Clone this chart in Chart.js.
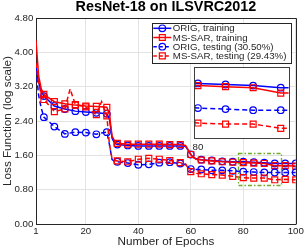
<!DOCTYPE html>
<html>
<head>
<meta charset="utf-8">
<script src="https://cdn.jsdelivr.net/npm/chart.js@4.4.1/dist/chart.umd.min.js"></script>
<style>
  html, body { margin: 0; padding: 0; background: #fff; }
  #wrap { position: relative; width: 305px; height: 249px; }
  #main { position: absolute; left: 0; top: 0; }
  #inset { position: absolute; left: 188px; top: 62px; }
</style>
</head>
<body>
<div id="wrap">
  <canvas id="main" width="305" height="249"></canvas>
  <canvas id="inset" width="106" height="90"></canvas>
</div>
<script>
// values (null = no reading at that epoch)
const epochs     = [1, 2, 3, 4, 8, 12, 14, 16, 20, 24, 26, 28, 29, 30, 31, 32, 36, 40, 44, 48, 52, 56, 58, 59, 60, 61, 62, 64, 68, 72, 76, 80, 84, 88, 92, 96, 100];
const origTrain  = [3.70, 3.30, 3.10, 2.98, 2.75, 2.68, null, 2.63, 2.61, 2.59, null, 2.57, 2.45, 2.00, 1.88, 1.85, 1.83, 1.82, 1.82, 1.82, 1.82, 1.82, 1.81, 1.72, 1.62, 1.55, 1.52, 1.50, 1.48, 1.46, 1.45, 1.45, 1.44, 1.43, 1.41, 1.41, 1.41];
const msTrain    = [4.28, 3.45, 3.15, 3.02, 2.85, 2.80, null, 2.77, 2.75, 2.74, null, 2.72, 2.55, 2.05, 1.93, 1.88, 1.86, 1.86, 1.86, 1.86, 1.85, 1.85, 1.83, 1.73, 1.62, 1.55, 1.51, 1.49, 1.47, 1.45, 1.44, 1.43, 1.42, 1.41, 1.36, 1.36, 1.35];
const origTest   = [3.60, 3.00, 2.70, 2.49, 2.27, 2.10, null, 2.14, 2.13, 2.09, 2.12, 2.14, 1.85, 1.50, 1.46, 1.45, 1.42, 1.38, 1.39, 1.43, 1.44, 1.41, 1.38, 1.32, 1.28, 1.27, 1.27, 1.27, 1.25, 1.25, 1.24, 1.22, 1.21, 1.20, 1.20, 1.20, 1.20];
const msTest     = [3.75, 3.30, 3.00, 2.90, 2.62, 2.68, 3.15, 2.78, 2.73, 2.55, 2.85, 2.52, 1.85, 1.52, 1.48, 1.47, 1.45, 1.51, 1.53, 1.51, 1.48, 1.43, 1.40, 1.30, 1.22, 1.19, 1.18, 1.17, 1.15, 1.14, 1.11, 1.08, 1.07, 1.07, 1.03, 1.04, 1.03];
const seriesNames = ['ORIG, training', 'MS-SAR, training', 'ORIG, testing (30.50%)', 'MS-SAR, testing (29.43%)'];

const xTicks = [1, 20, 40, 60, 80, 100];
const yTicks = [0, 0.8, 1.6, 2.4, 3.2, 4.0, 4.8];
const insetTicks = [80];
const insetX = [79.43, 93.14];
const insetY = [0.94, 1.6];
const zoomBox = { x: [78, 94.3], y: [0.91, 1.655] };

const FONT = '"Liberation Sans", Arial, Helvetica, sans-serif';
const AXIS = '#262626';
const GRID = '#e3e3e3';
const BLUE = '#0000ff';
const RED = '#ff0000';

const styles = [
  { color: BLUE, dash: [], point: 'circle', r: 3.3 },
  { color: RED, dash: [], point: 'rect', r: 4.2 },
  { color: BLUE, dash: [5, 3], point: 'circle', r: 3.3 },
  { color: RED, dash: [5, 3], point: 'rect', r: 4.2 }
];
const series = [origTrain, msTrain, origTest, msTest];

function makeDatasets() {
  return series.map((vals, i) => ({
    label: seriesNames[i],
    data: epochs.map((e, j) => ({ x: e, y: vals[j] })).filter(p => p.y !== null),
    borderColor: styles[i].color,
    borderWidth: 1.5,
    borderDash: styles[i].dash,
    pointStyle: styles[i].point,
    pointRadius: ctx => (ctx.raw && ctx.raw.x % 4 === 0) ? styles[i].r : 0,
    pointBorderColor: styles[i].color,
    pointBackgroundColor: 'rgba(0,0,0,0)',
    pointBorderWidth: 1.2,
    tension: 0,
    order: 4 - i
  }));
}

function marker(ctx, style, x, y) {
  ctx.beginPath();
  if (style.point === 'circle') {
    ctx.arc(x, y, style.r, 0, Math.PI * 2);
  } else {
    const s = style.r * Math.SQRT1_2;
    ctx.rect(x - s, y - s, 2 * s, 2 * s);
  }
  ctx.stroke();
}

const px = v => Math.round(v) + 0.5;

// top + right edges of the axes box
const frame = {
  id: 'frame',
  afterDatasetsDraw(chart) {
    const { ctx, chartArea: a } = chart;
    ctx.save();
    ctx.strokeStyle = AXIS;
    ctx.lineWidth = 1;
    ctx.beginPath();
    ctx.moveTo(px(a.left), px(a.top));
    ctx.lineTo(px(a.right), px(a.top));
    ctx.lineTo(px(a.right), px(a.bottom));
    ctx.stroke();
    ctx.restore();
  }
};

// green dash-dot box marking the zoomed region
const zoomMark = {
  id: 'zoomMark',
  afterDatasetsDraw(chart) {
    const { ctx, scales: { x, y } } = chart;
    ctx.save();
    ctx.strokeStyle = '#6fae2a';
    ctx.lineWidth = 1.3;
    ctx.setLineDash([4, 2, 1.5, 2]);
    const x0 = x.getPixelForValue(zoomBox.x[0]), x1 = x.getPixelForValue(zoomBox.x[1]);
    const y0 = y.getPixelForValue(zoomBox.y[1]), y1 = y.getPixelForValue(zoomBox.y[0]);
    ctx.strokeRect(px(x0), px(y0), Math.round(x1 - x0), Math.round(y1 - y0));
    ctx.restore();
  }
};

const legendBox = {
  id: 'legendBox',
  afterDraw(chart) {
    const { ctx, chartArea: a } = chart;
    ctx.save();
    ctx.font = '9.7px ' + FONT;
    const textW = Math.max(...seriesNames.map(n => ctx.measureText(n).width));
    const rowH = 9.2;
    const w = 21 + textW + 4.3;
    const h = rowH * seriesNames.length + 3;
    const x0 = a.right - 5 - w, y0 = a.top + 5;
    ctx.fillStyle = '#fff';
    ctx.fillRect(x0, y0, w, h);
    ctx.strokeStyle = AXIS;
    ctx.lineWidth = 1;
    ctx.strokeRect(px(x0), px(y0), Math.round(w), Math.round(h));
    seriesNames.forEach((name, i) => {
      const st = styles[i];
      const y = y0 + 5.3 + i * rowH;
      ctx.strokeStyle = st.color;
      ctx.lineWidth = 1.5;
      ctx.setLineDash(st.dash.length ? [3.5, 2.5] : []);
      ctx.beginPath();
      ctx.moveTo(x0 + 1.5, y);
      ctx.lineTo(x0 + 19.5, y);
      ctx.stroke();
      ctx.setLineDash([]);
      ctx.lineWidth = 1.2;
      marker(ctx, st, x0 + 10.5, y);
      ctx.fillStyle = AXIS;
      ctx.textBaseline = 'middle';
      ctx.textAlign = 'left';
      ctx.fillText(name, x0 + 21, y + 0.5);
    });
    ctx.restore();
  }
};

const titleText = {
  id: 'titleText',
  afterDraw(chart) {
    const { ctx, chartArea: a } = chart;
    ctx.save();
    ctx.font = 'bold 14.4px ' + FONT;
    ctx.fillStyle = '#000';
    ctx.textAlign = 'center';
    ctx.textBaseline = 'middle';
    ctx.fillText('ResNet-18 on ILSVRC2012', (a.left + a.right) / 2, 7);
    ctx.restore();
  }
};

new Chart(document.getElementById('main'), {
  type: 'line',
  data: { datasets: makeDatasets() },
  options: {
    responsive: false,
    animation: false,
    devicePixelRatio: 1,
    layout: { padding: { top: 18, right: 9, left: 0, bottom: 0 } },
    plugins: { legend: { display: false }, tooltip: { enabled: false } },
    scales: {
      x: {
        type: 'linear', min: 1, max: 100,
        afterBuildTicks: s => { s.ticks = xTicks.map(v => ({ value: v })); },
        afterFit: s => { s.height = 25; },
        ticks: { color: AXIS, font: { family: FONT, size: 9.7 }, padding: 1.2, maxRotation: 0, autoSkip: false, callback: v => String(v) },
        grid: { color: GRID, drawTicks: false },
        border: { color: AXIS, width: 1 },
        title: { display: true, text: 'Number of Epochs', color: AXIS, font: { family: FONT, size: 11.7 }, padding: { top: 0, bottom: 0.3 } }
      },
      y: {
        type: 'linear', min: 0, max: 4.8,
        afterBuildTicks: s => { s.ticks = yTicks.map(v => ({ value: v })); },
        afterFit: s => { s.width = 36; },
        ticks: { color: AXIS, font: { family: FONT, size: 9.7 }, padding: 2.7, autoSkip: false, callback: v => v.toFixed(2) },
        grid: { color: GRID, drawTicks: false },
        border: { color: AXIS, width: 1 },
        title: { display: true, text: 'Loss Function (log scale)', color: AXIS, font: { family: FONT, size: 11.7 }, padding: { top: 0.5, bottom: 0 } }
      }
    }
  },
  plugins: [frame, zoomMark, legendBox, titleText]
});

// inset: opaque white axes with a frame
const insetFrame = {
  id: 'insetFrame',
  beforeDraw(chart) {
    const { ctx, chartArea: a } = chart;
    ctx.save();
    ctx.fillStyle = '#fff';
    ctx.fillRect(a.left, a.top, a.right - a.left, a.bottom - a.top);
    ctx.restore();
  },
  afterDraw(chart) {
    const { ctx, chartArea: a } = chart;
    ctx.save();
    ctx.strokeStyle = '#404040';
    ctx.lineWidth = 1;
    ctx.strokeRect(px(a.left), px(a.top), Math.round(a.right - a.left), Math.round(a.bottom - a.top));
    ctx.restore();
  }
};

new Chart(document.getElementById('inset'), {
  type: 'line',
  data: { datasets: makeDatasets() },
  options: {
    responsive: false,
    animation: false,
    devicePixelRatio: 1,
    layout: { padding: { left: 6, right: 4, top: 4, bottom: 0 } },
    plugins: { legend: { display: false }, tooltip: { enabled: false } },
    scales: {
      x: {
        type: 'linear', min: insetX[0], max: insetX[1],
        afterBuildTicks: s => { s.ticks = insetTicks.map(v => ({ value: v })); },
        afterFit: s => { s.height = 14; },
        ticks: { color: AXIS, font: { family: FONT, size: 9.7 }, padding: 3.5, maxRotation: 0, autoSkip: false, callback: v => String(v) },
        grid: { display: false, drawTicks: false },
        border: { display: false }
      },
      y: { type: 'linear', min: insetY[0], max: insetY[1], display: false }
    }
  },
  plugins: [insetFrame]
});
</script>
</body>
</html>
